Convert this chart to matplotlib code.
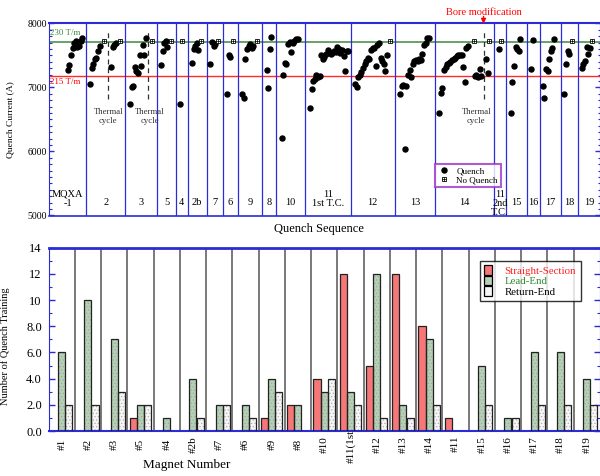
import numpy as np
import matplotlib
matplotlib.use('Agg')
import matplotlib.pyplot as plt
from matplotlib.lines import Line2D
from matplotlib.patches import Patch

plt.rcParams['font.family'] = ['Liberation Serif', 'DejaVu Serif']
plt.rcParams['hatch.linewidth'] = 0.5

BLUE = '#2b2bd9'

# ---------------- top: quench history (x = quench sequence no.) ----------------
section_edges = [0, 23.1, 47.7, 67.7, 79.2, 86.7, 98.6, 108.6, 117.9, 133.3, 142.1,
                 160.0, 188.6, 216.1, 241.3, 278.1, 285.8, 298.8, 307.1, 320.0, 330.8, 344.4]
section_names = ['MQXA\n-1', '2', '3', '5', '4', '2b', '7', '6', '9', '8', '10',
                 '11\n1st T.C.', '12', '13', '14', '11\n2nd\nT.C.', '15', '16', '17', '18', '19']

# quench currents (A), in order
mqxa1 = [7270, 7350, 7500, 7620, 7700, 7720, 7640, 7650, 7720, 7770]
m2_a = [7060, 7300, 7360, 7450, 7465, 7570, 7645]
m2_b = [7320, 7630, 7660, 7700]
m3 = [6745, 7000, 7020, 7320, 7250, 7230, 7500, 7330, 7660, 7500, 7770]
m5 = [7350, 7570, 7700, 7720, 7640]
m4 = [6745]
m2b = [7380, 7600, 7650, 7700, 7580]
m7 = [7370, 7710, 7650, 7680]
m6 = [6905, 7515, 7480]
m9 = [6905, 6840, 7440, 7600, 7650, 7680, 7620, 7650]
m8 = [7270, 6995, 7595, 7790]
m10 = [6215, 7190, 7385, 7360, 7680, 7715, 7560, 7700, 7730, 7760, 7750]
m11_1st = [6680, 6980, 7100, 7130, 7190, 7160, 7180, 7510, 7440, 7470, 7520, 7590, 7550,
           7520, 7540, 7570, 7560, 7630, 7600, 7540, 7580, 7490, 7250, 7570, 7570]
m12 = [7050, 7010, 7160, 7200, 7245, 7300, 7370, 7410, 7460, 7440, 7580, 7620, 7610,
       7330, 7660, 7690, 7460, 7410, 7360, 7255, 7505]
m13 = [6900, 7030, 7040, 6035, 7020, 7190, 7280, 7160, 7360, 7410, 7430, 7420, 7440,
       7430, 7520, 7660, 7700, 7770, 7780]
m14_a = [6605, 6920, 6995, 7280, 7320, 7360, 7385, 7400, 7425, 7450, 7465, 7490, 7500,
         7510, 7515, 7320, 7085, 7620, 7655]
m14_b = [7180, 7190, 7160, 7290, 7180]
m14_c = [7450, 7230]
m11_2nd = [7605]
m15 = [6605, 7085, 7335, 7640, 7600, 7570, 7750]
m16 = [7290, 7740]
m17 = [7020, 6840, 7290, 7255, 7450, 7570, 7610, 7750]
m18 = [6900, 7360, 7570, 7530]
m19 = [7310, 7360, 7410, 7640, 7520, 7620]

runs = [mqxa1, m2_a, m2_b, m3, m5, m4, m2b, m7, m6, m9, m8, m10, m11_1st, m12, m13,
        m14_a, m14_b, m14_c, m11_2nd, m15, m16, m17, m18, m19]
run_start = [11.7, 25.6, 38.75, 50.6, 70.0, 81.9, 89.4, 100.9, 111.4, 120.8, 136.0, 145.4,
             163.1, 191.25, 219.4, 243.9, 266.1, 273.1, 281.4, 288.6, 301.25, 308.6, 322.1, 333.0]

# no-quench (reached target)
nq_seq = [34.6, 44.6, 64.6, 76.1, 83.3, 95.0, 105.6, 115.0, 130.2, 213.1, 265.4, 275.2, 282.5, 327.2, 339.7]
nq_amp = [7730, 7730, 7730, 7730, 7730, 7730, 7730, 7730, 7730, 7730, 7730, 7730, 7730, 7730, 7730]

tc_seq = [37.1, 62.1, 271.6]
tc_label_seq = [37.1, 63.2, 267.0]
i_230 = 7710
i_215 = 7180

# ---------------- bottom: quench training count ----------------
magnets = ['#1', '#2', '#3', '#5', '#4', '#2b', '#7', '#6', '#9', '#8', '#10', '#11(1st)',
           '#12', '#13', '#14', '#11', '#15', '#16', '#17', '#18', '#19']
straight = [0, 0, 0, 1, 0, 0, 0, 0, 1, 2, 4, 12, 5, 12, 8, 1, 0, 0, 0, 0, 0]
lead = [6, 10, 7, 2, 1, 4, 2, 2, 4, 2, 3, 3, 12, 2, 7, 0, 5, 1, 6, 6, 4]
ret = [2, 2, 3, 2, 0, 1, 2, 1, 3, 0, 4, 2, 1, 1, 2, 0, 2, 1, 2, 2, 2]

fig = plt.figure(figsize=(6, 4.76), dpi=100)
ax1 = fig.add_axes([49 / 600, 1 - 215.5 / 476, 551 / 600, 192 / 476])
ax2 = fig.add_axes([48.7 / 600, 1 - 431 / 476, 551.3 / 600, 183.3 / 476])

# ---- top panel ----
ax1.set_xlim(section_edges[0], section_edges[-1])
ax1.set_ylim(5000, 8000)
ax1.axhline(i_230, color='#5b9b5b', lw=1.3, zorder=1)
ax1.axhline(i_215, color='#ff2a2a', lw=1.0, zorder=1)
for e in section_edges[1:-1]:
    ax1.axvline(e, color=BLUE, lw=0.9, zorder=1)

for vals, s in zip(runs, run_start):
    xs = s + np.arange(len(vals))
    ax1.plot(xs, vals, 'o', color='black', ms=3.6, zorder=3)
ax1.plot(nq_seq, nq_amp, 's', mfc='white', mec='black', mew=0.6, ms=3.4, zorder=4)
ax1.plot(nq_seq, nq_amp, '+', color='black', mew=0.5, ms=3.4, zorder=5)

ax1.vlines(tc_seq, 6820, 7860, colors='#333333', lw=0.9, linestyles=(0, (4, 3)), zorder=2)
for x in tc_label_seq:
    ax1.text(x, 6550, 'Thermal\ncycle', ha='center', va='center', fontsize=6.3,
             color='#333333', linespacing=1.25)

ax1.text(tc_seq[2], 8170, 'Bore modification', color='red', ha='center', va='center',
         fontsize=7.5, clip_on=False)
ax1.annotate('', xy=(tc_seq[2], 7995), xytext=(tc_seq[2], 8110),
             arrowprops=dict(arrowstyle='-|>', color='red', lw=1, mutation_scale=7,
                             shrinkA=0, shrinkB=0), annotation_clip=False)

ax1.text(0.8, 7850, '230 T/m', color='#3c8c3c', fontsize=6.5, va='center', ha='left')
ax1.text(0.8, 7090, '215 T/m', color='red', fontsize=6.5, va='center', ha='left')

for i, name in enumerate(section_names):
    xc = (section_edges[i] + section_edges[i + 1]) / 2
    if '\n' in name:
        ax1.text(xc, 5400, name, ha='center', va='top', fontsize=7.5, linespacing=1.0)
    else:
        ax1.text(xc, 5200, name, ha='center', va='center', fontsize=7.5)

ax1.set_xticks([])
ax1.set_yticks([5000, 6000, 7000, 8000])
ax1.set_yticks(np.arange(5000, 8001, 100), minor=True)
ax1.tick_params(axis='y', which='both', direction='in', left=True, right=True,
                color=BLUE, labelsize=7, pad=1.5)
ax1.tick_params(axis='y', which='major', length=3.6, width=1)
ax1.tick_params(axis='y', which='minor', length=1.8, width=0.8)
for sp in ax1.spines.values():
    sp.set_color(BLUE)
ax1.spines['top'].set_linewidth(1.5)
ax1.spines['bottom'].set_linewidth(1.2)

ax1.set_ylabel('Quench Current (A)', fontsize=6.8)
ax1.yaxis.set_label_coords(-0.0635, 0.5)
ax1.set_xlabel('Quench Sequence', fontsize=9)
ax1.xaxis.set_label_coords(0.49, -0.07)
ax1.xaxis.label.set_va('center')

h_q = Line2D([], [], marker='o', ls='', color='black', ms=3.6)
h_nq1 = Line2D([], [], marker='s', ls='', mfc='white', mec='black', mew=0.6, ms=3.4)
h_nq2 = Line2D([], [], marker='+', ls='', color='black', mew=0.5, ms=3.4)
leg1 = ax1.legend([h_q, (h_nq1, h_nq2)], ['Quench', 'No Quench'], loc='upper left',
                  bbox_to_anchor=(0.7005, 0.268), fontsize=6.5, frameon=True, fancybox=False,
                  handlelength=1.2, handletextpad=0.8, labelspacing=0.05, borderpad=0.35,
                  borderaxespad=0)
leg1.get_frame().set_edgecolor('#9933cc')
leg1.get_frame().set_linewidth(1.5)

# ---- bottom panel ----
n = len(magnets)
idx = np.arange(n)
w = 0.27
ax2.set_xlim(0, n)
ax2.set_ylim(0, 14)
for e in range(1, n):
    ax2.axvline(e, color='#555555', lw=1.1, zorder=1)

series = [(straight, 0.22, '#f57777', '#f57777', None),
          (lead, 0.49, '#b7cfb7', '#93b093', '.....'),
          (ret, 0.765, '#f6f6f6', '#b0b0b0', '.....')]
for vals, off, fc, hc, hatch in series:
    v = np.array(vals, dtype=float)
    m = v > 0
    ax2.bar(idx[m] + off, v[m], width=w, color=fc, edgecolor=hc, hatch=hatch,
            linewidth=0, zorder=2)
    ax2.bar(idx[m] + off, v[m], width=w, fill=False, edgecolor='#222222',
            linewidth=0.9, zorder=3)

ax2.set_xticks(idx + 0.5, magnets, rotation=90, va='center', fontsize=8)
ax2.tick_params(axis='x', length=0, pad=9.5)
ax2.set_yticks(np.arange(0, 15, 2), ['0.0', '2.0', '4.0', '6.0', '8.0', '10', '12', '14'])
ax2.set_yticks(np.arange(0, 15, 1), minor=True)
ax2.tick_params(axis='y', which='both', direction='in', left=True, right=True,
                color=BLUE, labelsize=9, pad=5)
ax2.tick_params(axis='y', which='major', length=4, width=1)
ax2.tick_params(axis='y', which='minor', length=2, width=0.8)
for sp in ax2.spines.values():
    sp.set_color(BLUE)
ax2.spines['top'].set_linewidth(2)
ax2.spines['bottom'].set_linewidth(1.5)

ax2.set_ylabel('Number of Quench Training', fontsize=7.5)
ax2.yaxis.set_label_coords(-0.0708, 0.46)
ax2.set_xlabel('Magnet Number', fontsize=9.5)
ax2.xaxis.set_label_coords(0.2506, -0.185)
ax2.xaxis.label.set_va('center')

handles = [Patch(facecolor='#f57777', edgecolor='black', lw=0.9),
           Patch(facecolor='#b7cfb7', edgecolor='black', lw=0.9),
           Patch(facecolor='#f6f6f6', edgecolor='black', lw=0.9)]
leg2 = ax2.legend(handles, ['Straight-Section', 'Lead-End', 'Return-End'], loc='upper left',
                  bbox_to_anchor=(0.782, 0.929), fontsize=7.8, frameon=True, fancybox=False,
                  handlelength=0.7, handleheight=1.0, handletextpad=1.2, labelspacing=0.0,
                  borderpad=0.4, borderaxespad=0)
leg2.get_frame().set_edgecolor('black')
leg2.get_frame().set_linewidth(1.0)
for t, c in zip(leg2.get_texts(), ['#ff2020', '#2e8b2e', 'black']):
    t.set_color(c)

fig.savefig('out.png', dpi=100)
